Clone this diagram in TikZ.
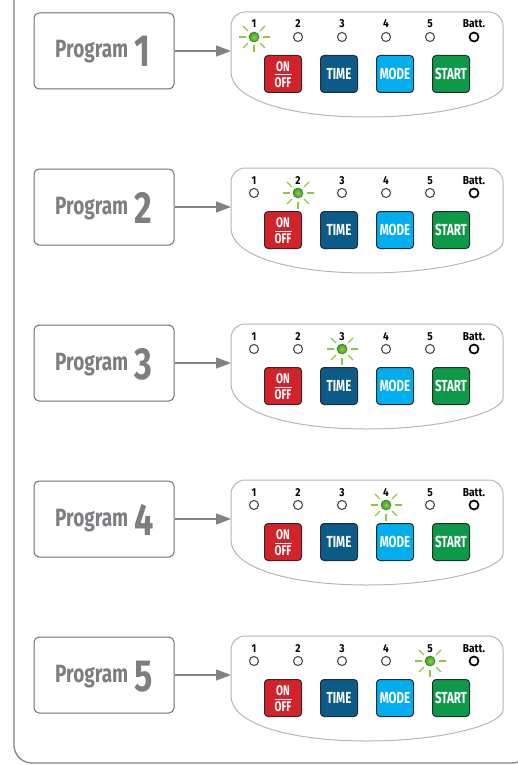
\documentclass[tikz,border=0pt]{standalone}
\usepackage{fontspec}
\setmainfont{Fira Sans}
\newfontfamily\progfont{Fira Sans}[FakeStretch=0.76]
\newfontfamily\condfont{Fira Sans}[FakeStretch=0.72]
\newfontfamily\labfont{Fira Sans}[FakeStretch=0.88]
\usetikzlibrary{arrows.meta}
\definecolor{txtgray}{HTML}{7D7E81}
\definecolor{boxgray}{HTML}{6D6E71}
\definecolor{arrgray}{HTML}{808285}
\definecolor{panelgray}{HTML}{B5B6B8}
\definecolor{ledgray}{HTML}{3A3A3A}
\definecolor{onred}{HTML}{D2232A}
\definecolor{timeblue}{HTML}{0B5B88}
\definecolor{modeblue}{HTML}{00AEEF}
\definecolor{startgreen}{HTML}{0D9A48}
\definecolor{btnborder}{HTML}{2B2B2B}
\definecolor{ledin}{HTML}{8CD14A}
\definecolor{ledout}{HTML}{2E8B1E}
\definecolor{raygreen}{HTML}{8DC63F}
\tikzset{
  frameline/.style={draw=arrgray, line width=1.3},
  progbox/.style={draw=boxgray, line width=1, rounded corners=5, minimum width=140, minimum height=76, inner sep=0},
  progtxt/.style={text=txtgray, font=\progfont\bfseries\fontsize{25}{25}\selectfont, inner sep=0, anchor=base west},
  prognum/.style={text=txtgray, font=\progfont\bfseries\fontsize{45}{45}\selectfont, inner sep=0, anchor=base west},
  arr/.style={draw=arrgray, line width=1.2, -{Triangle[length=15,width=11]}},
  panelline/.style={draw=panelgray, line width=1},
  ledlab/.style={font=\labfont\bfseries\fontsize{11.5}{11.5}\selectfont, inner sep=0, anchor=base},
  led/.style={circle, draw=ledgray, line width=1, minimum size=9, inner sep=0},
  battled/.style={circle, draw=black, line width=1.7, minimum size=9, inner sep=0},
  litled/.style={circle, draw=ledout, line width=0.6, minimum size=10, inner sep=0, inner color=ledin, outer color=ledout!80!ledin},
  ray/.style={draw=raygreen, line width=1.3},
  btn/.style={draw=btnborder, line width=1, rounded corners=3.5, minimum width=37, minimum height=37, inner sep=0},
  btntxt/.style={text=white, font=\condfont\bfseries\fontsize{16}{16}\selectfont, inner sep=0},
  ontxt/.style={text=white, font=\condfont\bfseries\fontsize{14}{14}\selectfont, inner sep=0}
}
\begin{document}
\begin{tikzpicture}[x=1pt,y=-1pt]
\useasboundingbox (0,0) rectangle (518,765);
\draw[frameline, rounded corners=18] (14,-5) -- (14,763) -- (530,763) -- (530,-5);
\foreach \i in {1,...,5}{
\begin{scope}[shift={(0,{(\i-1)*156})}]
  \node[progbox] (prog\i) at (104,51) {};
  \node[progtxt] (progt\i) at (55,58) {Program};
  \node[prognum] (progn\i) at (134,67) {\i};
  \coordinate (panel\i) at (231,51);
  \draw[panelline] (231,72) [rounded corners=14] -- (231,12) -- (503,12) -- (503,72) [sharp corners]
     .. controls (503,100) and (444,117) .. (367,117)
     .. controls (290,117) and (231,100) .. (231,72);
  \draw[arr] (prog\i.east) -- (panel\i);
  \foreach \x/\lab [count=\k] in {254/1,298/2,342/3,386/4,430/5,474/Batt.}{
    \node[ledlab] (lab\i-\k) at (\x,28) {\lab};
    \ifnum\k=\i
      \node[litled] (led\i-\k) at (\x,37) {};
      \foreach \a in {0,45,90,135,180,225,315}{
        \draw[ray] ([shift={(\a:8.5)}]led\i-\k.center) -- ([shift={(\a:15.5)}]led\i-\k.center);
      }
    \else
      \ifnum\k=6
        \node[battled] (led\i-\k) at (\x,37) {};
      \else
        \node[led] (led\i-\k) at (\x,37) {};
      \fi
    \fi
  }
  \node[btn, fill=onred] (on\i) at (283,74) {};
  \node[ontxt] (ont\i) at (283,67) {ON};
  \draw[white, line width=1] (274.5,75) -- (291.5,75);
  \node[ontxt] (offt\i) at (283,83) {OFF};
  \node[btn, fill=timeblue] (time\i) at (339,74) {};
  \node[btntxt] (timet\i) at (time\i.center) {TIME};
  \node[btn, fill=modeblue] (mode\i) at (395,74) {};
  \node[btntxt] (modet\i) at (mode\i.center) {MODE};
  \node[btn, fill=startgreen] (start\i) at (451,74) {};
  \node[btntxt] (startt\i) at (start\i.center) {START};
\end{scope}
}
\end{tikzpicture}
\end{document}
